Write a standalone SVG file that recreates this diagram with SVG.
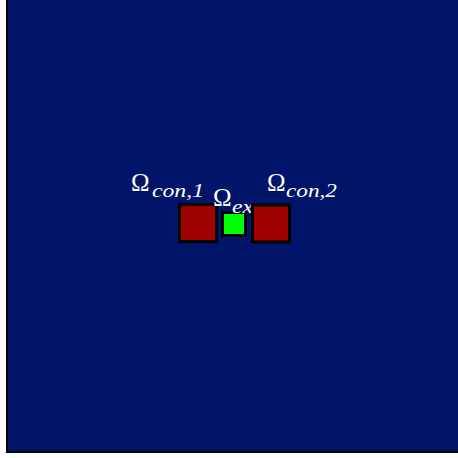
<svg xmlns="http://www.w3.org/2000/svg" width="458" height="458" viewBox="0 0 458 458">
<style>
.lbl{font-family:"Liberation Serif","DejaVu Serif",serif;fill:#ffffff}
.om{font-size:25px}
.sub{font-size:18px;font-style:italic}
.sq{stroke:#000000;stroke-width:3}
</style>
<rect x="0" y="0" width="458" height="458" fill="#ffffff"/>
<g id="domain">
<rect x="7" y="-10" width="460" height="462" fill="#00146a" stroke="#000000" stroke-width="2"/>
</g>
<g id="con1">
<rect class="sq" x="179.5" y="204.5" width="37" height="37" fill="#a00000"/>
<text class="lbl om" x="131" y="191">Ω</text>
<text class="lbl sub" x="152" y="196.5" textLength="52" lengthAdjust="spacingAndGlyphs">con,1</text>
</g>
<g id="ex">
<rect class="sq" x="222.5" y="212.5" width="23" height="23" fill="#00ff00"/>
<text class="lbl om" x="213" y="206">Ω</text>
<text class="lbl sub" x="232" y="212.5" textLength="21" lengthAdjust="spacingAndGlyphs">ex</text>
</g>
<g id="con2">
<rect class="sq" x="252.5" y="205" width="37" height="37" fill="#a00000"/>
<text class="lbl om" x="267" y="191">Ω</text>
<text class="lbl sub" x="286" y="196.5" textLength="51" lengthAdjust="spacingAndGlyphs">con,2</text>
</g>
<g id="connectors"></g>
</svg>
